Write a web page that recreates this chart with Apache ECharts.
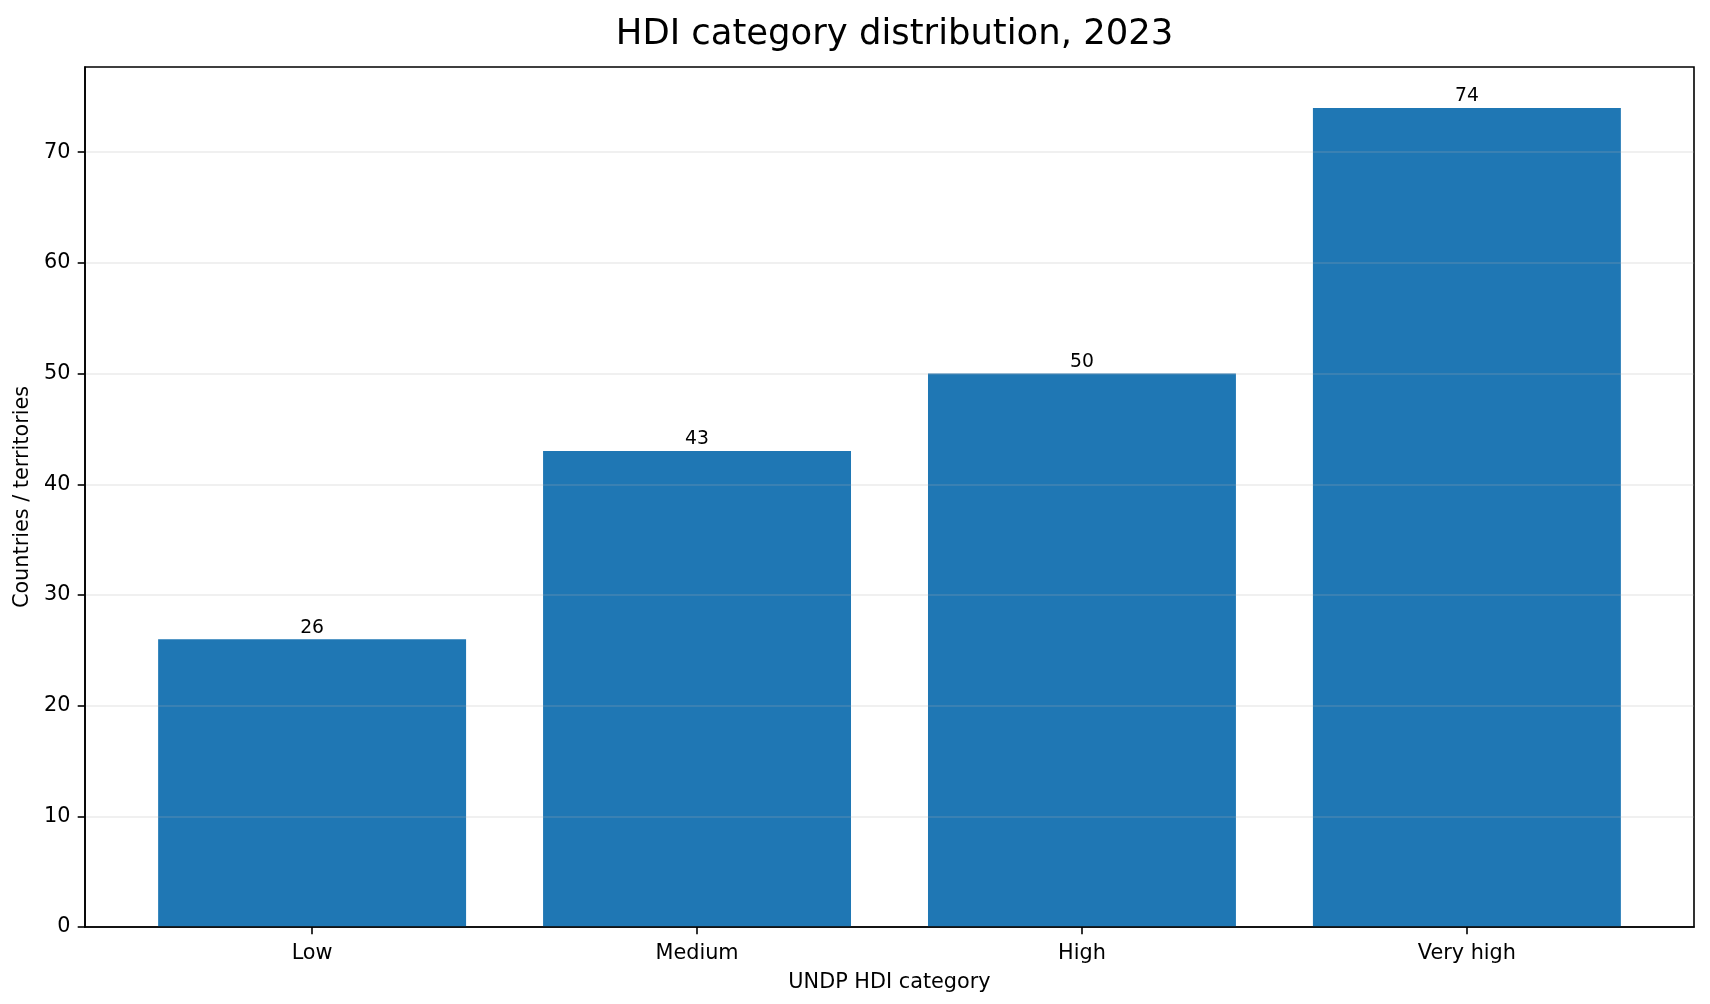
<!DOCTYPE html>
<html>
<head>
<meta charset="utf-8">
<title>HDI category distribution, 2023</title>
<script src="https://cdn.jsdelivr.net/npm/echarts@6/dist/echarts.min.js"></script>
<style>
  html, body { margin: 0; padding: 0; background: #fff; }
  #chart { width: 1710px; height: 1004px; }
</style>
</head>
<body>
<div id="chart"></div>
<script>
// data
const categories = ['Low', 'Medium', 'High', 'Very high'];
const counts = [26, 43, 50, 74];
const yTicks = [0, 10, 20, 30, 40, 50, 60, 70];

const chart = echarts.init(document.getElementById('chart'));

const gridLeft = 85, gridRight = 16, gridTop = 67, gridBottom = 77;
const xMin = -0.59, xMax = 3.59;
const plotWidth = 1710 - gridLeft - gridRight;
const barPx = 0.8 / (xMax - xMin) * plotWidth;

const font = 'DejaVu Sans';

chart.setOption({
  animation: false,
  textStyle: { fontFamily: font, color: '#000' },
  title: {
    text: 'HDI category distribution, 2023',
    left: gridLeft + plotWidth / 2,
    textAlign: 'center',
    top: 12,
    textStyle: { fontFamily: font, fontSize: 35.4, fontWeight: 'normal', color: '#000' }
  },
  grid: {
    left: gridLeft, right: gridRight, top: gridTop, bottom: gridBottom,
    show: true, borderColor: '#000', borderWidth: 1.6, backgroundColor: 'transparent'
  },
  xAxis: {
    type: 'value',
    min: xMin,
    max: xMax,
    z: 5,
    name: 'UNDP HDI category',
    nameLocation: 'middle',
    nameGap: 45,
    nameTextStyle: { fontFamily: font, fontSize: 20.8, color: '#000' },
    axisLine: { show: true, onZero: false, lineStyle: { color: '#000', width: 1.6 } },
    axisTick: { show: true, length: 7.3, lineStyle: { color: '#000', width: 1.6 }, customValues: [0, 1, 2, 3] },
    axisLabel: {
      margin: 16,
      fontFamily: font, fontSize: 20.8, color: '#000',
      customValues: [0, 1, 2, 3],
      formatter: v => categories[Math.round(v)] || ''
    },
    splitLine: { show: false }
  },
  yAxis: {
    type: 'value',
    min: 0,
    max: 77.7,
    interval: 10,
    z: 5,
    name: 'Countries / territories',
    nameLocation: 'middle',
    nameGap: 52,
    nameTextStyle: { fontFamily: font, fontSize: 20.8, color: '#000' },
    axisLine: { show: true, onZero: false, lineStyle: { color: '#000', width: 1.6 } },
    axisTick: { show: true, length: 7.3, lineStyle: { color: '#000', width: 1.6 }, customValues: yTicks },
    axisLabel: {
      margin: 14.6, padding: [3, 0, 0, 0],
      fontFamily: font, fontSize: 20.8, color: '#000', customValues: yTicks
    },
    splitLine: { show: true, lineStyle: { color: 'rgba(176,176,176,0.25)', width: 1.6 } }
  },
  series: [{
    type: 'bar',
    data: counts.map((v, i) => [i, v]),
    barWidth: barPx,
    itemStyle: { color: '#1f77b4' },
    label: {
      show: true,
      position: 'top',
      distance: 2,
      fontFamily: font,
      fontSize: 18.75,
      color: '#000',
      formatter: p => p.value[1]
    }
  }]
});
</script>
</body>
</html>
